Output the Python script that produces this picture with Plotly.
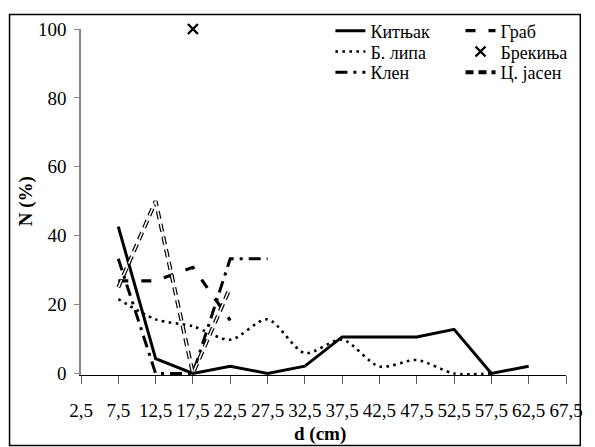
import plotly.graph_objects as go

# diameter classes (cm) and their tick labels
d_classes = [2.5, 7.5, 12.5, 17.5, 22.5, 27.5, 32.5, 37.5, 42.5, 47.5, 52.5, 57.5, 62.5, 67.5]
d_labels = ["2,5", "7,5", "12,5", "17,5", "22,5", "27,5", "32,5", "37,5", "42,5",
            "47,5", "52,5", "57,5", "62,5", "67,5"]

# N (%) per species
kitnjak_d = [7.5, 12.5, 17.5, 22.5, 27.5, 32.5, 37.5, 42.5, 47.5, 52.5, 57.5, 62.5]
kitnjak = [42.6, 4.3, 0, 2.1, 0, 2.1, 10.6, 10.6, 10.6, 12.8, 0, 2.1]
grab_d = [7.5, 12.5, 17.5, 22.5]
grab = [26.9, 26.9, 30.8, 15.4]
lipa_d = [7.5, 12.5, 17.5, 22.5, 27.5, 32.5, 37.5, 42.5, 47.5, 52.5, 57.5]
lipa = [21.6, 15.7, 13.7, 9.8, 15.7, 5.9, 9.8, 2.0, 3.9, 0, 0]
brekinja_d = [17.5]
brekinja = [100]
klen_d = [7.5, 12.5, 17.5, 22.5, 27.5]
klen = [33.3, 0, 0, 33.3, 33.3]
jasen_d = [7.5, 12.5, 17.5, 22.5]
jasen = [25, 50, 0, 25]

FONT = "Liberation Serif"
FS = 19
FL = 18
fig = go.Figure()
fig.add_trace(go.Scatter(x=kitnjak_d, y=kitnjak, mode="lines", name="Китњак",
                         line=dict(color="black", width=3), legend="legend"))
fig.add_trace(go.Scatter(x=lipa_d, y=lipa, mode="lines", name="Б. липа",
                         line=dict(color="black", width=2.6, dash="2.6px,4.4px", shape="spline", smoothing=0.8),
                         legend="legend3"))
fig.add_trace(go.Scatter(x=klen_d, y=klen, mode="lines", name="Клен",
                         line=dict(color="black", width=3, dash="12px,6px,3px,6px"), legend="legend5"))
fig.add_trace(go.Scatter(x=grab_d, y=grab, mode="lines", name="Граб",
                         line=dict(color="black", width=3.2, dash="10px,13px"), legend="legend2"))
fig.add_trace(go.Scatter(x=brekinja_d, y=brekinja, mode="markers", name="Брекиња",
                         marker=dict(symbol="x-thin", size=10, color="black",
                                     line=dict(color="black", width=2.4)),
                         cliponaxis=False, legend="legend4"))
fig.add_trace(go.Scatter(x=jasen_d, y=jasen, mode="lines", name="Ц. јасен",
                         line=dict(color="black", width=4, dash="8px,5px"), legend="legend6"))
fig.add_trace(go.Scatter(x=jasen_d, y=jasen, mode="lines", name="Ц. јасен",
                         line=dict(color="white", width=1.6, dash="8px,5px"),
                         showlegend=False, hoverinfo="skip"))

W, H = 595, 447
L, R, T, B = 81, 22, 26, 72
pw, ph = W - L - R, H - T - B

def px(xp):
    return (xp - L) / pw

def py(yp):
    return (H - B - yp) / ph

def leg(xp, yp):
    return dict(x=px(xp), y=py(yp), xanchor="left", yanchor="middle",
                font=dict(family=FONT, size=FL, color="black"), bgcolor="rgba(0,0,0,0)",
                itemwidth=30, borderwidth=0)

fig.update_layout(
    width=W, height=H,
    margin=dict(l=L, r=R, t=T, b=B),
    paper_bgcolor="white", plot_bgcolor="white",
    showlegend=True,
    legend=leg(334, 28), legend3=leg(334, 49), legend5=leg(334, 70),
    legend2=leg(466, 28), legend4=leg(466, 49), legend6=leg(466, 70),
    xaxis=dict(range=[2.5, 67.5], tickmode="array", tickvals=d_classes, ticktext=d_labels,
               showline=True, linecolor="black", linewidth=1,
               ticks="outside", ticklen=8, tickcolor="#595959", tickwidth=1,
               ticklabelstandoff=10,
               showgrid=False, zeroline=False,
               tickfont=dict(family=FONT, size=FS, color="black")),
    yaxis=dict(range=[-0.45, 100], tickmode="array", tickvals=[0, 20, 40, 60, 80, 100],
               showline=True, linecolor="#868686", linewidth=1.5,
               ticks="outside", ticklen=5, tickcolor="#868686",
               ticklabelstandoff=4,
               showgrid=False, zeroline=False,
               tickfont=dict(family=FONT, size=FS, color="black")),
    annotations=[
        dict(text="<b>N (%)</b>", x=px(25), y=py(200), xref="paper", yref="paper",
             xanchor="center", yanchor="middle",
             showarrow=False, textangle=-90, font=dict(family=FONT, size=FS, color="black")),
        dict(text="<b>d (cm)</b>", x=px(323), y=py(435), xref="paper", yref="paper",
             xanchor="center", yanchor="middle",
             showarrow=False, font=dict(family=FONT, size=FS, color="black")),
    ],
    shapes=[dict(type="rect", xref="paper", yref="paper", layer="above",
                 x0=px(8.5), x1=px(587.5), y0=py(446), y1=py(11.5),
                 line=dict(color="black", width=1.5))],
)

fig.write_html("out.html", config={"displayModeBar": False},
               post_script="document.body.style.margin='0';")
